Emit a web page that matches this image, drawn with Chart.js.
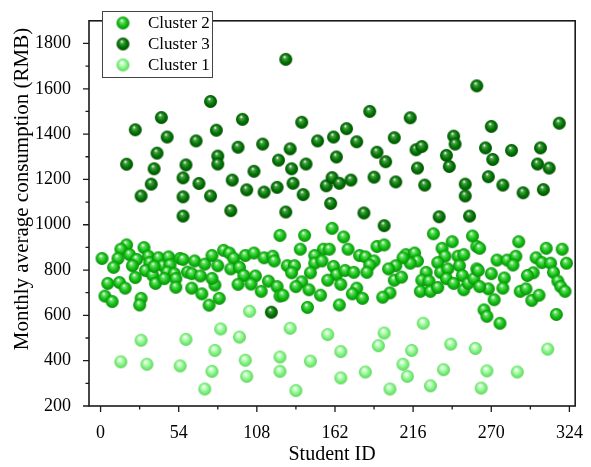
<!DOCTYPE html>
<html>
<head>
<meta charset="utf-8">
<script src="https://cdn.jsdelivr.net/npm/chart.js@4/dist/chart.umd.min.js"></script>
<style>
  html, body { margin: 0; padding: 0; background: #fff; }
</style>
</head>
<body>
<canvas id="scatterChart" width="591" height="467"></canvas>
<script>
// data: student id + monthly average consumption
const cluster2Ids = [1,18,14,12,9,5,3,8,13,17,20,25,22,24,30,33,34,31,36,38,40,43,47,48,46,51,52,55,57,60,28,27,37,52,44,
  124,65,72,77,81,85,89,92,90,96,99,100,106,113,119,120,107,95,104,111,116,122,124,63,69,63,70,75,79,82,77,
  160,141,168,138,154,158,171,179,183,191,189,186,129,134,132,148,148,153,145,139,135,144,152,161,163,166,157,169,175,177,174,181,184,143,165,126,
  230,257,243,196,236,238,211,217,219,214,209,204,199,203,208,200,195,225,222,227,221,228,233,233,235,240,239,244,247,251,248,250,251,254,258,260,260,
  289,308,319,262,322,274,281,287,285,301,305,311,313,299,295,270,261,279,278,268,262,272,290,294,298,303,316,318,321,265,267,276,315];
const cluster2Values = [851,911,892,851,812,741,685,661,745,720,868,847,819,767,899,861,833,798,777,741,854,819,858,823,791,784,762,851,847,791,675,646,816,724,762,
  953,840,826,864,819,887,875,852,805,812,776,864,875,854,861,840,774,737,738,706,751,727,685,784,774,720,695,645,734,675,763,
  984,953,946,892,892,892,892,864,858,904,840,822,819,819,788,864,830,840,788,748,727,713,689,816,780,737,755,798,790,720,695,675,790,635,646,689,
  960,950,925,911,896,861,868,875,840,830,854,819,805,755,769,699,680,790,755,751,706,706,723,833,790,805,762,741,861,868,819,776,713,741,762,805,904,
  925,896,892,896,830,844,844,861,822,854,833,830,790,788,776,784,798,765,720,717,727,669,706,717,666,689,751,727,706,624,596,565,604];

const cluster3Ids = [42,24,46,39,18,37,35,28,59,57,57,57,
  76,98,80,66,95,112,81,81,68,76,91,106,101,113,122,123,90,118,
  128,139,186,131,150,161,170,177,163,132,142,191,189,133,140,156,160,165,173,159,128,182,
  260,214,203,244,245,218,222,197,239,241,219,204,224,252,252,234,255,196,
  270,317,266,271,284,304,302,310,268,278,292,306];
const cluster3Values = [1473,1419,1387,1316,1267,1247,1179,1127,1264,1207,1123,1038,
  1544,1465,1417,1370,1342,1356,1303,1268,1182,1127,1197,1236,1154,1144,1165,1285,1062,614,
  1730,1452,1500,1335,1370,1387,1424,1366,1299,1247,1268,1320,1210,1183,1133,1172,1208,1183,1197,1094,1056,1052,
  1613,1472,1384,1391,1356,1331,1345,1278,1306,1257,1250,1189,1175,1179,1127,1035,1038,996,
  1434,1448,1339,1288,1328,1339,1268,1250,1212,1175,1141,1155];

const cluster1Ids = [28,59,14,32,55,
  103,83,96,79,100,124,77,101,124,72,
  131,157,166,145,166,183,135,192,
  223,196,242,215,259,209,237,212,200,228,
  309,267,288,263];
const cluster1Values = [490,494,395,384,377,
  618,540,504,445,402,416,353,331,353,275,
  543,515,440,398,324,350,268,466,
  565,522,473,445,454,384,360,331,275,289,
  451,355,350,279];

const xTicks = [0, 54, 108, 162, 216, 270, 324];
const xMinor = [27, 81, 135, 189, 243, 297];
const yTicks = [200, 400, 600, 800, 1000, 1200, 1400, 1600, 1800];
const yMinor = [300, 500, 700, 900, 1100, 1300, 1500, 1700];

const serif = '"Liberation Serif", "Times New Roman", serif';

// shaded ball used as point marker
function makeBall(r, light, mid, dark) {
  const c = document.createElement('canvas');
  const s = Math.ceil(r * 2) + 2;
  c.width = c.height = s;
  const g = c.getContext('2d');
  const cx = s / 2, cy = s / 2;
  const grad = g.createRadialGradient(cx - r * 0.2, cy - r * 0.4, r * 0.05, cx, cy, r);
  grad.addColorStop(0, '#ffffff');
  grad.addColorStop(0.2, light);
  grad.addColorStop(0.6, mid);
  grad.addColorStop(1, dark);
  g.fillStyle = grad;
  g.beginPath();
  g.arc(cx, cy, r, 0, Math.PI * 2);
  g.fill();
  return c;
}

const ball2 = makeBall(6.5, '#6fe06f', '#14c214', '#0a8a0a');
const ball3 = makeBall(6.5, '#4f9f4f', '#037a03', '#014c01');
const ball1 = makeBall(6.5, '#d2ffd2', '#88f588', '#5cd45c');

function toPoints(ids, vals) {
  return ids.map((id, i) => ({ x: id, y: vals[i] }));
}

const legendItems = [
  { text: 'Cluster 2', img: ball2 },
  { text: 'Cluster 3', img: ball3 },
  { text: 'Cluster 1', img: ball1 }
];

// frame, minor/major ticks, y title and boxed legend
const decorPlugin = {
  id: 'decor',
  afterDraw(chart) {
    const ctx = chart.ctx;
    const a = chart.chartArea;
    const xs = chart.scales.x, ys = chart.scales.y;
    ctx.save();
    ctx.strokeStyle = '#1a1a1a';
    ctx.lineWidth = 1.6;
    ctx.strokeRect(a.left, a.top, a.right - a.left, a.bottom - a.top);

    ctx.lineWidth = 1.3;
    ctx.beginPath();
    xTicks.forEach(v => { const p = xs.getPixelForValue(v); ctx.moveTo(p, a.bottom); ctx.lineTo(p, a.bottom + 6); });
    xMinor.forEach(v => { const p = xs.getPixelForValue(v); ctx.moveTo(p, a.bottom); ctx.lineTo(p, a.bottom + 3.5); });
    yTicks.forEach(v => { const p = ys.getPixelForValue(v); ctx.moveTo(a.left, p); ctx.lineTo(a.left - 6, p); });
    yMinor.forEach(v => { const p = ys.getPixelForValue(v); ctx.moveTo(a.left, p); ctx.lineTo(a.left - 3.5, p); });
    ctx.stroke();

    // y axis title
    ctx.fillStyle = '#000';
    ctx.font = '21px ' + serif;
    ctx.textAlign = 'center';
    ctx.textBaseline = 'middle';
    ctx.translate(22, 189);
    ctx.rotate(-Math.PI / 2);
    ctx.fillText('Monthly average consumption (RMB)', 0, 0);
    ctx.setTransform(1, 0, 0, 1, 0, 0);

    // legend
    ctx.fillStyle = '#fff';
    ctx.fillRect(102.5, 11.5, 110, 66);
    ctx.strokeStyle = '#444';
    ctx.lineWidth = 1;
    ctx.strokeRect(102.5, 11.5, 110, 66);
    ctx.font = '17px ' + serif;
    ctx.textAlign = 'left';
    ctx.fillStyle = '#000';
    legendItems.forEach((it, i) => {
      const cy = 23 + i * 21;
      ctx.drawImage(it.img, 123 - it.img.width / 2, cy - it.img.height / 2);
      ctx.fillText(it.text, 148, cy + 1);
    });
    ctx.restore();
  }
};

const config = {
  type: 'scatter',
  data: {
    datasets: [
      { label: 'Cluster 1', data: toPoints(cluster1Ids, cluster1Values), pointStyle: ball1, pointRadius: 6.5 },
      { label: 'Cluster 3', data: toPoints(cluster3Ids, cluster3Values), pointStyle: ball3, pointRadius: 6.5 },
      { label: 'Cluster 2', data: toPoints(cluster2Ids, cluster2Values), pointStyle: ball2, pointRadius: 6.5 }
    ]
  },
  options: {
    responsive: false,
    animation: false,
    devicePixelRatio: 1,
    layout: { padding: { top: 5, right: 9, left: 0, bottom: 0 } },
    plugins: {
      legend: { display: false },
      tooltip: { enabled: false }
    },
    scales: {
      x: {
        type: 'linear',
        min: -8,
        max: 328,
        grid: { display: false },
        border: { display: false },
        afterBuildTicks: s => { s.ticks = xTicks.map(v => ({ value: v })); },
        afterFit: s => { s.height = 61; },
        ticks: { color: '#000', padding: 8, maxRotation: 0, autoSkip: false, font: { family: serif, size: 18 },
                 callback: v => String(v) },
        title: { display: true, text: 'Student ID', color: '#000', padding: { top: 0, bottom: 0 }, font: { family: serif, size: 20 } }
      },
      y: {
        min: 200,
        max: 1900,
        grid: { display: false },
        border: { display: false },
        afterBuildTicks: s => { s.ticks = yTicks.map(v => ({ value: v })); },
        afterFit: s => { s.width = 89; },
        ticks: { color: '#000', padding: 10, autoSkip: false, font: { family: serif, size: 18 },
                 callback: v => String(v) }
      }
    }
  },
  plugins: [decorPlugin]
};

new Chart(document.getElementById('scatterChart'), config);
</script>
</body>
</html>
